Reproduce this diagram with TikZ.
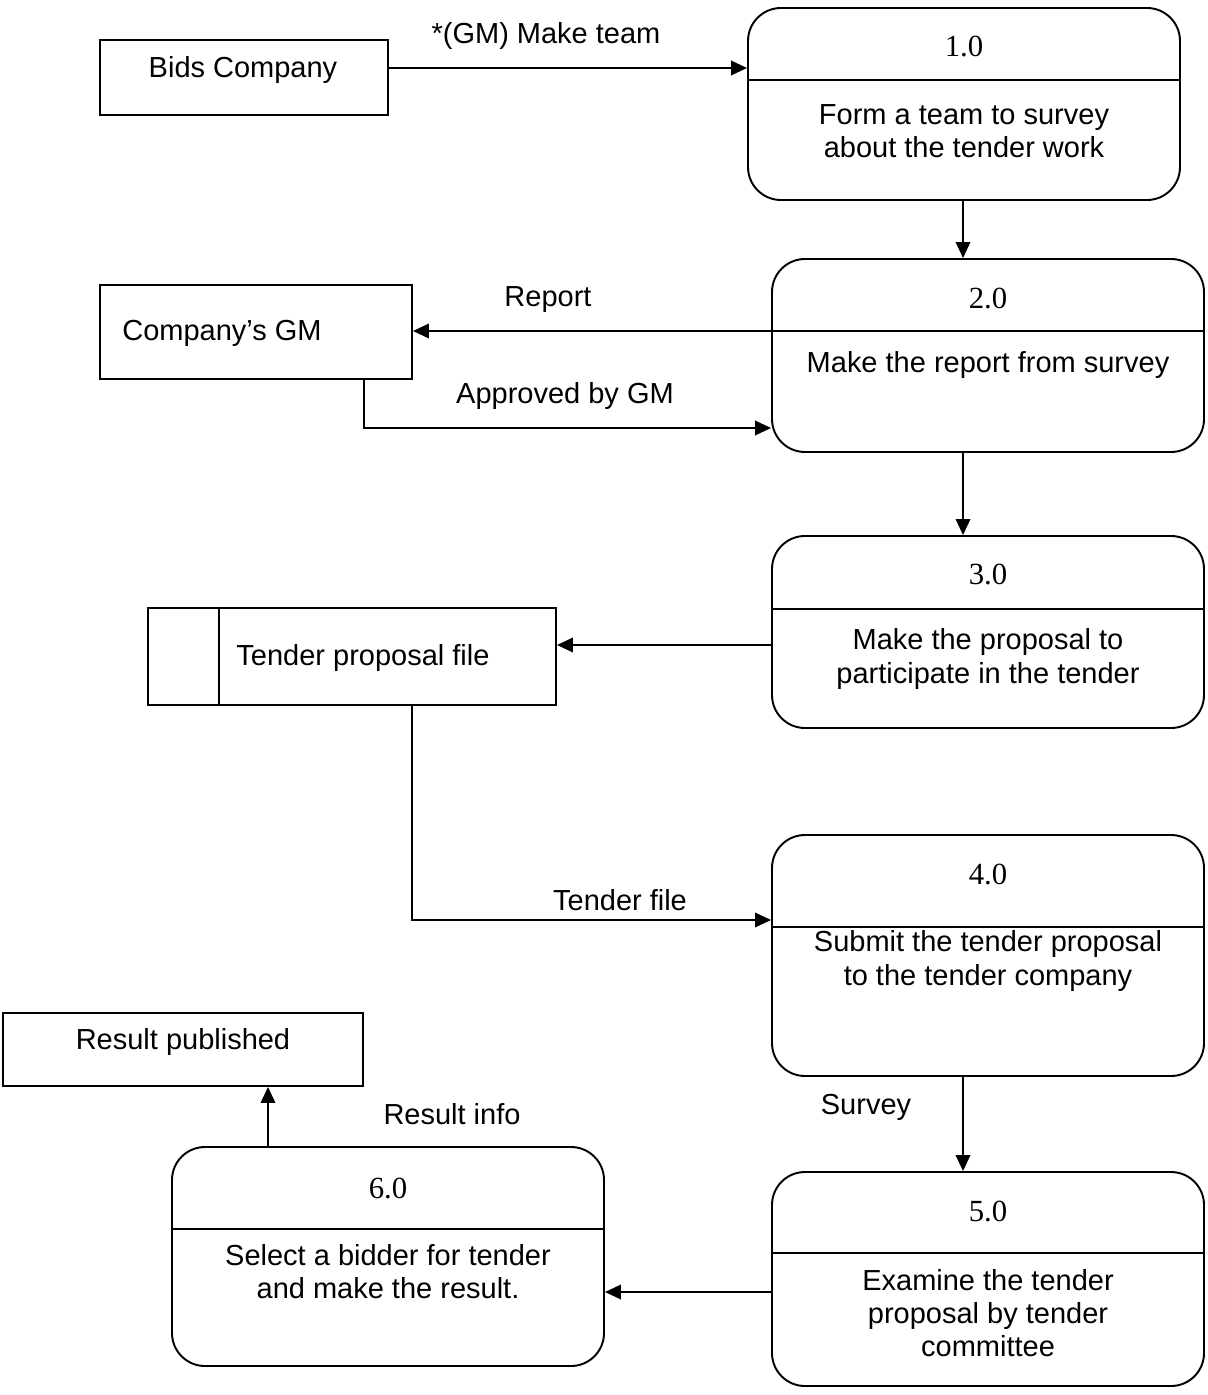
\documentclass[tikz,border=0pt]{standalone}
\usepackage{fontspec}
\setmainfont{Liberation Sans}
\newfontfamily\numfont{Liberation Serif}
\usetikzlibrary{arrows.meta}

\begin{document}
\begin{tikzpicture}[
		x=0.2mm, y=-0.2mm,
		>={Triangle[length=3.2mm,width=2.9mm]},
		line width=1.1pt,
		every node/.style={font=\fontsize{16.5}{18.8}\selectfont},
		entity/.style={draw, rectangle, inner sep=0pt},
		procbox/.style={draw, rectangle, rounded corners=6.6mm, minimum width=86.4mm, inner sep=0pt},
		procnum/.style={font=\numfont\fontsize{17.5}{20}\selectfont},
		proctext/.style={align=center}
	]
	\useasboundingbox (0,0) rectangle (1207,1395);
	\coordinate (spine) at (963,0);

	% external entities and data store
	\node[entity, minimum width=57.6mm, minimum height=15mm] (bids) at (244,77.5) {};
	\node (bidsname) at (243,70) {Bids Company};
	\node[entity, minimum width=62.4mm, minimum height=18.8mm] (gm) at (256,332) {};
	\node (gmname) at (222,333) {Company’s GM};
	\node[entity, minimum width=81.6mm, minimum height=19.4mm] (store) at (352,656.5) {};
	\draw (store.north -| 219,0) -- (store.south -| 219,0);
	\node (storename) at (363,658) {Tender proposal file};
	\node[entity, minimum width=72mm, minimum height=14.6mm] (result) at (183,1049.5) {};
	\node (resultname) at (183,1042) {Result published};

	% processes
	\node[procbox, minimum height=38.4mm] (p1) at (964,104) {};
	\draw (p1.west |- 0,80) -- (p1.east |- 0,80);
	\node[procnum] (p1num) at (964,46) {1.0};
	\node[proctext] (p1text) at (964,131) {Form a team to survey\\about the tender work};

	\node[procbox, minimum height=38.6mm] (p2) at (988,355.5) {};
	\draw (p2.west |- 0,331) -- (p2.east |- 0,331);
	\node[procnum] (p2num) at (988,298) {2.0};
	\node[proctext] (p2text) at (988,365) {Make the report from survey};

	\node[procbox, minimum height=38.4mm] (p3) at (988,632) {};
	\draw (p3.west |- 0,609) -- (p3.east |- 0,609);
	\node[procnum] (p3num) at (988,574) {3.0};
	\node[proctext] (p3text) at (988,659) {Make the proposal to\\participate in the tender};

	\node[procbox, minimum height=48.2mm] (p4) at (988,955.5) {};
	\draw (p4.west |- 0,927) -- (p4.east |- 0,927);
	\node[procnum] (p4num) at (988,874) {4.0};
	\node[proctext] (p4text) at (988,961) {Submit the tender proposal\\to the tender company};

	\node[procbox, minimum height=42.8mm] (p5) at (988,1279) {};
	\draw (p5.west |- 0,1253) -- (p5.east |- 0,1253);
	\node[procnum] (p5num) at (988,1211) {5.0};
	\node[proctext] (p5text) at (988,1313) {Examine the tender\\proposal by tender\\committee};

	\node[procbox, minimum height=43.8mm] (p6) at (388,1256.5) {};
	\draw (p6.west |- 0,1229) -- (p6.east |- 0,1229);
	\node[procnum] (p6num) at (388,1188) {6.0};
	\node[proctext] (p6text) at (388,1272) {Select a bidder for tender\\and make the result.};

	% data flows
	\draw[->] (bids.east |- 0,68) -- (p1.west |- 0,68);
	\node (maketeam) at (546,36) {*(GM) Make team};
	\draw[->] (p1.south -| spine) -- (p2.north -| spine);
	\draw[->] (p2.west |- 0,331) -- (gm.east |- 0,331);
	\node (report) at (548,300) {Report};
	\draw[->] (gm.south -| 364,0) |- (p2.west |- 0,428);
	\node (approved) at (565,396) {Approved by GM};
	\draw[->] (p2.south -| spine) -- (p3.north -| spine);
	\draw[->] (p3.west |- 0,645) -- (store.east |- 0,645);
	\draw[->] (store.south -| 412,0) |- (p4.west |- 0,920);
	\node (tenderfile) at (620,900) {Tender file};
	\draw[->] (p4.south -| spine) -- (p5.north -| spine);
	\node (survey) at (866,1107) {Survey};
	\draw[->] (p5.west |- 0,1292) -- (p6.east |- 0,1292);
	\draw[->] (p6.north -| 268,0) -- (result.south -| 268,0);
	\node (resultinfo) at (452,1114) {Result info};
\end{tikzpicture}
\end{document}
